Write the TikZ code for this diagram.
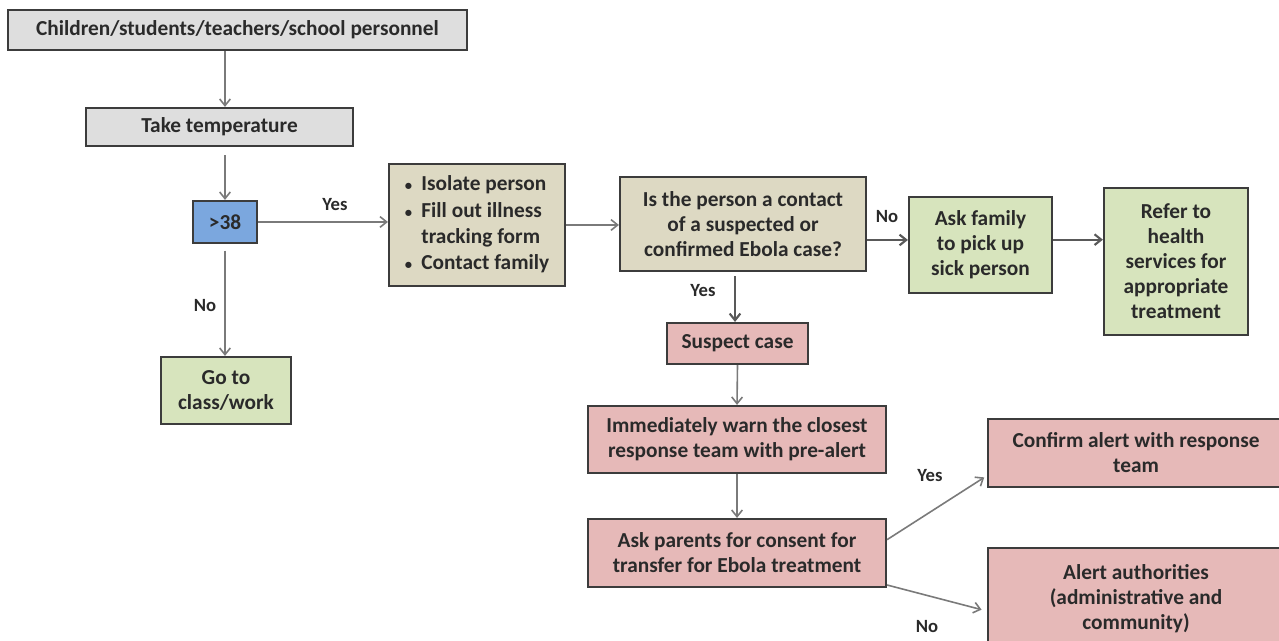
\documentclass[tikz,border=0pt]{standalone}
\usepackage{fontspec}
\setmainfont{Carlito}
\usetikzlibrary{arrows.meta}
\definecolor{greyfill}{HTML}{DEDEDE}
\definecolor{bluefill}{HTML}{7BA7DE}
\definecolor{beigefill}{HTML}{DDD9C3}
\definecolor{greenfill}{HTML}{D7E4BD}
\definecolor{pinkfill}{HTML}{E6B9B8}
\definecolor{edge}{HTML}{3C3C3C}
\definecolor{txt}{HTML}{2A2A2A}
\definecolor{link}{HTML}{7A7A7A}
\tikzset{
  box/.style={draw=edge, line width=1.6pt, inner sep=2pt, align=center,
    text=txt, font=\fontsize{16}{18.75}\selectfont\bfseries},
  wh/.style 2 args={minimum width=#1*0.75pt, minimum height=#2*0.75pt},
  greybox/.style={box, fill=greyfill},
  bluebox/.style={box, fill=bluefill},
  beigebox/.style={box, fill=beigefill},
  greenbox/.style={box, fill=greenfill},
  pinkbox/.style={box, fill=pinkfill},
  link/.style={draw=link, line width=1.2pt, -{Straight Barb[length=5pt,width=8pt]}},
  strong/.style={link, draw=edge!85, line width=1.6pt},
  lbl/.style={text=txt, font=\fontsize{14}{16}\selectfont\bfseries}
}
\newcommand{\smalldot}{{\fontsize{11}{11}\selectfont •}}
\begin{document}
\begin{tikzpicture}[x=0.75pt, y=-0.75pt]
\useasboundingbox (0,0) rectangle (1279,641);

% boxes
\node[greybox, wh={459}{40}] (top) at (237.5,30) {Children/students/teachers/school personnel};
\node[greybox, wh={267}{38}] (temp) at (219.5,127) {Take temperature};
\node[bluebox, wh={64}{42}] (gt) at (225,222) {>38};
\node[greenbox, wh={130}{67}] (go) at (226,390.5) {Go to\\class/work};
\node[beigebox, wh={176}{122}, align=left] (bul) at (477,225)
  {\renewcommand{\arraystretch}{1.05}%
   \begin{tabular}{@{}l@{\hspace{7pt}}l@{}}
   \smalldot & Isolate person\\
   \smalldot & Fill out illness\\
     & tracking form\\
   \smalldot & Contact family
   \end{tabular}};
\node[beigebox, wh={246}{94}] (q) at (743,224) {Is the person a contact\\of a suspected or\\confirmed Ebola case?};
\node[greenbox, wh={143}{96}] (fam) at (980.5,245) {Ask family\\to pick up\\sick person};
\node[greenbox, wh={144}{147}] (ref) at (1176,261.5) {Refer to\\health\\services for\\appropriate\\treatment};
\node[pinkbox, wh={141}{41}] (sus) at (737.5,343.5) {Suspect case};
\node[pinkbox, wh={298}{67}] (warn) at (737,439.5) {Immediately warn the closest\\response team with pre-alert};
\node[pinkbox, wh={298}{68}] (par) at (737,553) {Ask parents for consent for\\transfer for Ebola treatment};
\node[pinkbox, wh={296}{68}] (conf) at (1136,453) {Confirm alert with response\\team};
\node[pinkbox, wh={296}{102}] (alert) at (1136,599) {Alert authorities\\(administrative and\\community)};

% connectors
\draw[link] (gt.north |- top.south) -- (gt.north |- temp.north);
\draw[link] ([yshift=-6pt]gt.north |- temp.south) -- (gt.north);
\draw[link] (gt.east) -- (gt.east -| bul.west);
\draw[link] ([yshift=-5pt]gt.south) -- (gt.south |- go.north);
\draw[link] (bul.east) -- (bul.east -| q.west);
\draw[strong] ([yshift=-12pt]q.east) -- ([yshift=-12pt]q.east -| fam.west);
\draw[strong] ([yshift=4pt]fam.east) -- ([yshift=4pt]fam.east -| ref.west);
\draw[strong] ([xshift=-6pt,yshift=-3pt]q.south) -- ([xshift=-6pt]q.south |- sus.north);
\draw[link] (sus.south) -- (warn.north);
\draw[link] (warn.south) -- (par.north);
\draw[link] ([yshift=10pt]par.east) -- ([xshift=-2pt,yshift=8pt]conf.south west);
\draw[link] ([yshift=-24pt]par.east) -- ([xshift=-4pt,yshift=-8pt]alert.west);

% branch labels
\node[lbl] (y1) at (335,205) {Yes};
\node[lbl] (n1) at (205,306) {No};
\node[lbl] (n2) at (887,217) {No};
\node[lbl] (y2) at (703,291) {Yes};
\node[lbl] (y3) at (930,476) {Yes};
\node[lbl] (n3) at (927,627) {No};
\end{tikzpicture}
\end{document}
